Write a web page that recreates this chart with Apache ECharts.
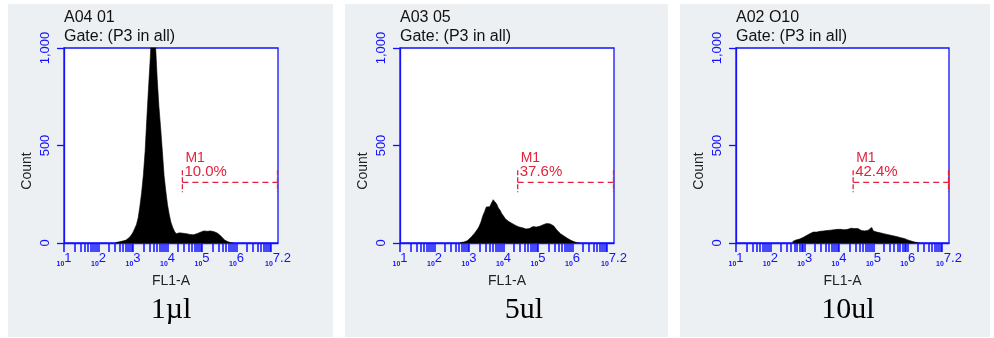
<!DOCTYPE html>
<html><head><meta charset="utf-8">
<script src="https://cdn.jsdelivr.net/npm/echarts@6/dist/echarts.min.js"></script>
<style>html,body{margin:0;padding:0;background:#fff;} #c{width:994px;height:338px;}</style>
</head><body><div id="c"></div>
<script>
// ---- data ----
const panelTitles = ['A04 01', 'A03 05', 'A02 O10'];
const gateLabel = 'Gate: (P3 in all)';
const captions = ['1µl', '5ul', '10ul'];
const m1Percent = ['10.0%', '37.6%', '42.4%'];
const m1Start = [4.43, 4.41, 4.41];
const m1End = 7.2;
const m1Level = 311;
const xTickExps = ['1', '2', '3', '4', '5', '6', '7.2'];
const yTickValues = [0, 500, 1000];
const yTickLabels = ['0', '500', '1,000'];
const binStep = 0.05;
const p1Start = 2.50;
const p1Counts = [2,4,6,8,10,12,15,22,30,41,55,75,95,130,190,260,350,470,640,800,950,1150,1200,1020,844,700,590,470,345,265,195,145,105,80,60,48,50,52,44,50,46,48,42,44,38,42,45,48,50,55,58,62,66,60,68,62,64,58,55,50,45,35,25,16,10,6,3,1,0];
const p2Start = 2.75;
const p2Counts = [2,3,5,8,12,20,28,38,48,60,72,88,110,140,160,185,195,186,205,222,212,200,180,168,150,138,125,120,110,108,100,97,90,88,82,80,78,76,72,66,74,82,84,76,82,74,86,88,94,92,100,104,98,97,88,78,65,58,48,44,36,32,24,20,14,10,6,3,1,0];
const p3Start = 2.65;
const p3Counts = [8,14,16,18,20,24,28,32,38,42,48,52,56,60,56,64,60,68,62,70,64,72,66,74,68,76,70,78,70,76,68,77,70,68,76,68,74,66,74,66,64,72,62,68,66,60,80,62,60,56,58,52,54,48,50,44,46,40,42,36,37,32,31,27,27,23,21,16,15,10,8,5,3,1,0];

// ---- layout / style ----
const BLUE = '#1212ff';
const RED = '#e3223c';
const SANS = '"Liberation Sans", Arial, sans-serif';
const SERIF = '"Liberation Serif", "Times New Roman", serif';
const gridLefts = [64, 400, 736];
const gridWidths = [214, 214, 213];
const gridTop = 48, gridHeight = 195;
const panelRects = [[8, 4, 325, 333], [345, 4, 323, 333], [680, 4, 310, 333]];
const captionX = [171, 524, 848];

const starts = [p1Start, p2Start, p3Start];
const counts = [p1Counts, p2Counts, p3Counts];

const xTickVals = xTickExps.map(Number);
// log-decade minor tick positions (1..9 x 10^k) on the exponent axis
const minorTicks = [];
for (let k = 1; k <= 7; k++) {
  for (let m = 1; m <= 9; m++) {
    const v = k + Math.log10(m);
    if (v <= 7.2 + 1e-9) minorTicks.push(v);
  }
}

const chart = echarts.init(document.getElementById('c'), null, {renderer: 'canvas'});

const grids = [], xAxes = [], yAxes = [], series = [], titles = [], graphics = [];

panelRects.forEach((r) => {
  graphics.push({type: 'rect', z: -10, shape: {x: r[0], y: r[1], width: r[2], height: r[3]}, style: {fill: '#edf0f3'}});
});

for (let i = 0; i < 3; i++) {
  grids.push({left: gridLefts[i], top: gridTop, width: gridWidths[i], height: gridHeight,
    show: true, backgroundColor: '#ffffff', borderColor: BLUE, borderWidth: 1.3, containLabel: false});
  xAxes.push({
    gridIndex: i, type: 'value', min: 1, max: 7.2,
    axisLine: {show: true, onZero: false, lineStyle: {color: BLUE, width: 1.3}},
    axisTick: {show: true, customValues: minorTicks, length: 9, lineStyle: {color: BLUE, width: 1.5}},
    axisLabel: {
      customValues: xTickVals, margin: 9, hideOverlap: false,
      formatter: (v) => {
        const idx = xTickVals.findIndex(t => Math.abs(t - v) < 1e-6);
        return '{a|10}{b|' + (idx >= 0 ? xTickExps[idx] : '') + '}';
      },
      rich: {
        a: {fontSize: 7, fontWeight: 'bold', color: BLUE, fontFamily: SANS, verticalAlign: 'bottom', padding: [4, 0, 0, 0]},
        b: {fontSize: 13, color: BLUE, fontFamily: SANS, padding: [0, 0, 3, 0]}
      }
    },
    splitLine: {show: false},
    name: 'FL1-A', nameLocation: 'middle', nameGap: 31,
    nameTextStyle: {fontSize: 14, color: '#222', fontFamily: SANS}
  });
  yAxes.push({
    gridIndex: i, type: 'value', min: 0, max: 1000, interval: 500,
    axisLine: {show: true, lineStyle: {color: BLUE, width: 1.3}},
    axisTick: {show: true, length: 7, lineStyle: {color: BLUE, width: 1.3}},
    axisLabel: {
      rotate: 90, margin: 12, color: BLUE, fontSize: 13, fontFamily: SANS,
      formatter: (v) => {
        const idx = yTickValues.indexOf(v);
        return idx >= 0 ? yTickLabels[idx] : '';
      }
    },
    splitLine: {show: false}
  });
  const data = counts[i].map((c, j) => [starts[i] + j * binStep, c]);
  series.push({
    type: 'line', xAxisIndex: i, yAxisIndex: i, data: data,
    symbol: 'none', clip: true, silent: true,
    lineStyle: {color: '#000', width: 0.6},
    areaStyle: {color: '#000', opacity: 1}
  });
  const pct = m1Percent[i];
  series.push({
    type: 'custom', xAxisIndex: i, yAxisIndex: i, clip: false, silent: true, z: 5,
    data: [[m1Start[i], m1Level, m1End]],
    renderItem: (params, api) => {
      const a = api.coord([api.value(0), api.value(1)]);
      const b = api.coord([api.value(2), api.value(1)]);
      const ds = {stroke: RED, lineWidth: 1.3};
      return {type: 'group', children: [
        {type: 'line', shape: {x1: a[0], y1: a[1], x2: b[0], y2: b[1]}, style: Object.assign({lineDash: [6, 4]}, ds)},
        {type: 'line', shape: {x1: a[0], y1: a[1] - 12, x2: a[0], y2: a[1] + 10}, style: Object.assign({lineDash: [5, 2]}, ds)},
        {type: 'line', shape: {x1: b[0] - 0.5, y1: a[1] - 12, x2: b[0] - 0.5, y2: a[1] + 10}, style: Object.assign({lineDash: [5, 2]}, ds)},
        {type: 'text', x: a[0] + 3, y: a[1] - 24, style: {text: 'M1', fill: RED, font: '14px ' + SANS, verticalAlign: 'middle', align: 'left'}},
        {type: 'text', x: a[0] + 2, y: a[1] - 10, style: {text: pct, fill: RED, font: '15px ' + SANS, verticalAlign: 'middle', align: 'left'}}
      ]};
    }
  });
  titles.push({
    left: gridLefts[i], top: 8, padding: 0,
    text: panelTitles[i] + '\n' + gateLabel,
    textStyle: {fontSize: 16, fontWeight: 'normal', color: '#111', lineHeight: 19, fontFamily: SANS}
  });
  graphics.push({type: 'text', x: gridLefts[i] - 37, y: 171, rotation: Math.PI / 2,
    style: {text: 'Count', fill: '#222', font: '14px ' + SANS, align: 'center', verticalAlign: 'middle'}});
  graphics.push({type: 'text', x: captionX[i], y: 310,
    style: {text: captions[i], fill: '#000', font: '30px ' + SERIF, align: 'center', verticalAlign: 'middle'}});
}

chart.setOption({
  animation: false,
  backgroundColor: '#ffffff',
  title: titles,
  grid: grids,
  xAxis: xAxes,
  yAxis: yAxes,
  series: series,
  graphic: graphics
});
</script>
</body></html>
